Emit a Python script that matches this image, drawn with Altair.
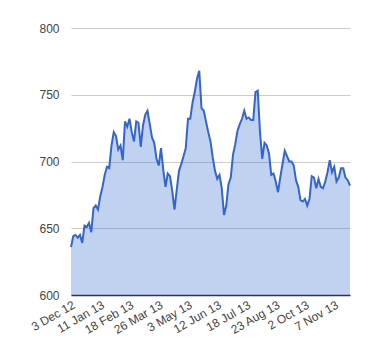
import altair as alt
import pandas as pd

# one value every two trading days, 3 Dec 2012 .. late Nov 2013
values = [
    636, 644, 645, 643, 645, 639, 652, 651, 654, 647,
    665, 667, 664, 674, 681, 690, 696, 695, 712, 722,
    719, 709, 712, 701, 730, 726, 732, 722, 715, 730,
    729, 711, 727, 735, 738, 728, 718, 714, 702, 697,
    710, 694, 681, 691, 689, 678, 664, 679, 693, 698,
    704, 710, 732, 732, 744, 752, 762, 768, 740, 738,
    730, 722, 715, 703, 693, 687, 690, 680, 660, 667,
    683, 688, 705, 713, 723, 728, 732, 738, 732, 733,
    731, 731, 752, 753, 722, 702, 714, 712, 706, 690,
    691, 685, 677, 688, 698, 708, 704, 700, 700, 697,
    686, 681, 671, 670, 672, 667, 672, 689, 688, 680,
    687, 681, 680, 685, 692, 701, 692, 696, 685, 688,
    695, 695, 688, 686, 682,
]
tick_labels = ["3 Dec 12", "11 Jan 13", "18 Feb 13", "26 Mar 13", "3 May 13",
               "12 Jun 13", "18 Jul 13", "23 Aug 13", "2 Oct 13", "7 Nov 13"]
label_step = 13
y_ticks = [600, 650, 700, 750, 800]

df = pd.DataFrame({"i": list(range(len(values))), "v": values})
tick_pos = [k * label_step for k in range(len(tick_labels))]
label_expr = "[" + ",".join("'" + t + "'" for t in tick_labels) + "][round(datum.value/%d)]" % label_step

font = "Liberation Sans"

x = alt.X("i:Q", scale=alt.Scale(domain=[0, len(values) - 1], nice=False, zero=False),
          axis=alt.Axis(title=None, values=tick_pos, labelExpr=label_expr, grid=False,
                        ticks=False, domain=True, domainColor="#333333", domainWidth=1.5,
                        labelAngle=-30, labelAlign="right", labelBaseline="top",
                        labelPadding=4, labelFont=font, labelFontSize=12,
                        labelColor="#444444", labelOverlap=False, labelFlush=False))
y = alt.Y("v:Q", scale=alt.Scale(domain=[600, 800], nice=False, zero=False),
          axis=alt.Axis(title=None, values=y_ticks, grid=True, gridColor="#cccccc",
                        ticks=False, domain=False, labelPadding=12, labelFont=font,
                        labelFontSize=12, labelColor="#444444"))

area = alt.Chart(df).mark_area(color="#3366cc", opacity=0.3).encode(
    x=x, y=y, y2=alt.datum(600))
line = alt.Chart(df).mark_line(color="#3366cc", strokeWidth=2).encode(x=x, y=y)

chart = (area + line).properties(
    width=279, height=267,
    autosize=alt.AutoSizeParams(type="none"),
    padding={"left": 63, "top": 20, "right": 22, "bottom": 60},
).configure_view(stroke=None)

chart.save("out.html", embed_options={"renderer": "svg", "actions": False})
